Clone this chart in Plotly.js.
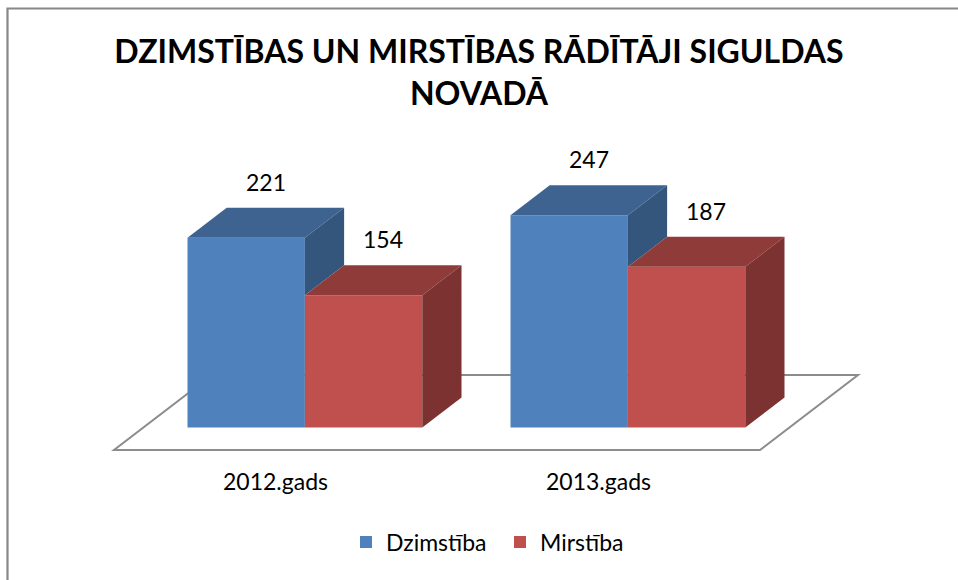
<!DOCTYPE html>
<html><head><meta charset="utf-8">
<script src="https://cdn.plot.ly/plotly-3.0.1.min.js"></script>
<style>html,body{margin:0;padding:0;background:#fff}#chart{width:958px;height:580px}</style>
</head><body><div id="chart"></div>
<script>
// ---- data ----
const categories = ['2012.gads', '2013.gads'];
const seriesNames = ['Dzimstība', 'Mirstība'];
const dzimstiba = [221, 247];
const mirstiba = [154, 187];
const chartTitle = 'DZIMSTĪBAS UN MIRSTĪBAS RĀDĪTĀJI SIGULDAS<br>NOVADĀ';

// ---- style / 3D projection settings ----
const W = 958, H = 580;
const PX_PER_CAT = 323, CAT0_PX = 275.5;
const PX_PER_UNIT = 0.859, FLOOR_FRONT_PX = 450;
const DEPTH_DX_PX = 98, DEPTH_DY_PX = 75;
const KX = DEPTH_DX_PX / PX_PER_CAT;
const KY = DEPTH_DY_PX / PX_PER_UNIT;
const Z0 = 0.30, Z1 = 0.70, DZ = Z1 - Z0;
const BARGAP = 0.273;
const BAR_W = (1 - BARGAP) / 2;
const frontColors = ['#4F81BD', '#C0504D'];
const topColors = ['#3E6391', '#8F3B39'];
const sideColors = ['#34567D', '#7C3231'];
const FONT = 'Lato, "Open Sans", sans-serif';

const series = [dzimstiba, mirstiba];
const traces = [];
const faceTraces = [];
const annotations = [];

series.forEach((vals, s) => {
  traces.push({
    type: 'bar', name: seriesNames[s],
    x: categories.map((_, i) => i + Z0 * KX),
    y: vals,
    base: vals.map(() => Z0 * KY),
    marker: {color: frontColors[s], line: {width: 0}},
    hoverinfo: 'skip'
  });
  vals.forEach((v, i) => {
    const xl = i + Z0 * KX - BAR_W + s * BAR_W;
    const xr = xl + BAR_W;
    const yf = Z0 * KY + v;
    const ox = DZ * KX, oy = DZ * KY;
    // top face
    faceTraces.push({
      type: 'scatter', mode: 'lines', fill: 'toself', fillcolor: topColors[s],
      line: {width: 0, color: topColors[s]}, showlegend: false, hoverinfo: 'skip',
      x: [xl, xr, xr + ox, xl + ox, xl],
      y: [yf, yf, yf + oy, yf + oy, yf]
    });
    // side face (part hidden by the neighbouring bar on the right is cut off)
    const next = series[s + 1];
    const hiddenTo = next ? Math.min(v, next[i]) : 0;
    const yb = Z0 * KY + hiddenTo;
    if (yb < yf) {
      faceTraces.push({
        type: 'scatter', mode: 'lines', fill: 'toself', fillcolor: sideColors[s],
        line: {width: 0, color: sideColors[s]}, showlegend: false, hoverinfo: 'skip',
        x: [xr, xr, xr + ox, xr + ox, xr],
        y: [yb, yf, yf + oy, yb + oy, yb]
      });
    }
    // data label above the top face
    annotations.push({
      x: xl + BAR_W / 2 + ox / 2, y: yf + oy / 2,
      xref: 'x', yref: 'y', text: String(v), showarrow: false,
      yshift: 41, font: {family: FONT, size: 23, color: '#000'}
    });
  });
});

// floor outline
const nCat = categories.length;
const fp = (c, z) => [c + z * KX, z * KY];
const corners = [fp(-0.5, 0), fp(nCat - 0.5, 0), fp(nCat - 0.5, 1), fp(-0.5, 1)];
const floorPath = 'M' + corners.map(p => p[0] + ',' + p[1]).join(' L') + ' Z';

const shapes = [
  {type: 'path', xref: 'x', yref: 'y', layer: 'below', path: floorPath,
   line: {color: '#8C8C8C', width: 2}, fillcolor: 'rgba(255,255,255,0)'},
  {type: 'path', xref: 'paper', yref: 'paper',
   path: `M ${7.5 / W},-0.1 L ${7.5 / W},${1 - 8.5 / H} L 1.1,${1 - 8.5 / H}`,
   line: {color: '#878787', width: 2.2}}
];

const layout = {
  width: W, height: H,
  margin: {l: 0, r: 0, t: 0, b: 0, pad: 0},
  paper_bgcolor: '#fff', plot_bgcolor: 'rgba(0,0,0,0)',
  barmode: 'group', bargap: BARGAP, bargroupgap: 0,
  title: {text: chartTitle, x: 0.5, xanchor: 'center', xref: 'paper',
          y: 1 - 63 / H, yanchor: 'top', yref: 'container',
          font: {family: FONT, size: 32, weight: 700, color: '#000'}},
  xaxis: {range: [-CAT0_PX / PX_PER_CAT, (W - CAT0_PX) / PX_PER_CAT],
          tickmode: 'array', tickvals: categories.map((_, i) => i), ticktext: categories,
          showgrid: false, zeroline: false, showline: false, ticks: '',
          anchor: 'free', position: 1 - 466 / H, fixedrange: true,
          tickfont: {family: FONT, size: 23, color: '#000'}},
  yaxis: {range: [-(H - FLOOR_FRONT_PX) / PX_PER_UNIT, FLOOR_FRONT_PX / PX_PER_UNIT],
          visible: false, fixedrange: true},
  showlegend: true,
  legend: {orientation: 'h', x: 0.5 + 21 / W, xanchor: 'center', y: 1 - 542 / H, yanchor: 'middle',
           entrywidth: 109, entrywidthmode: 'pixels',
           font: {family: FONT, size: 23, color: '#000'}, itemclick: false, itemdoubleclick: false},
  annotations: annotations,
  shapes: shapes
};

Plotly.newPlot('chart', traces.concat(faceTraces), layout, {displayModeBar: false, staticPlot: true});
</script></body></html>
